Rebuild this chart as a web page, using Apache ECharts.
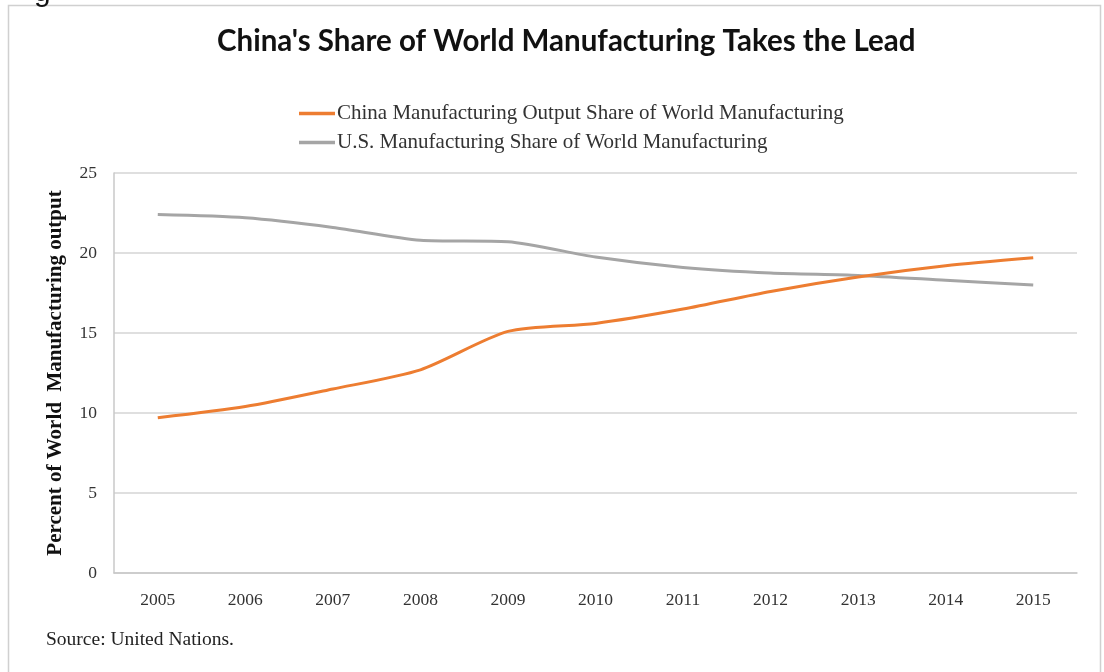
<!DOCTYPE html>
<html>
<head>
<meta charset="utf-8">
<script src="https://cdn.jsdelivr.net/npm/echarts@6/dist/echarts.min.js"></script>
<style>
  html, body { margin: 0; padding: 0; background: #fff; }
  #main { width: 1104px; height: 672px; }
</style>
</head>
<body>
<div id="main"></div>
<script>
const years = ['2005', '2006', '2007', '2008', '2009', '2010', '2011', '2012', '2013', '2014', '2015'];
const chinaShare = [9.7, 10.4, 11.5, 12.7, 15.1, 15.6, 16.5, 17.6, 18.5, 19.2, 19.7];
const usShare = [22.4, 22.2, 21.6, 20.8, 20.7, 19.75, 19.1, 18.75, 18.6, 18.3, 18.0];

const chart = echarts.init(document.getElementById('main'));

const serif = '"Liberation Serif", "DejaVu Serif", serif';

chart.setOption({
  animation: false,
  backgroundColor: '#fff',
  title: {
    text: "China's Share of World Manufacturing Takes the Lead",
    left: 212,
    top: 21,
    textStyle: { fontFamily: 'Lato', fontWeight: 'bold', fontSize: 29.5, color: '#111' }
  },
  legend: {
    orient: 'vertical',
    left: 294,
    top: 98,
    itemWidth: 36,
    itemHeight: 3.5,
    itemGap: 8,
    icon: 'rect',
    textStyle: { fontFamily: serif, fontSize: 21, color: '#333', padding: [0, 0, 0, -3] },
    data: [
      { name: 'China Manufacturing Output Share of World Manufacturing', itemStyle: { color: '#ED7D31' } },
      { name: 'U.S. Manufacturing Share of World Manufacturing', itemStyle: { color: '#A5A5A5' } }
    ]
  },
  grid: { left: 114, right: 27, top: 173, bottom: 99 },
  xAxis: {
    type: 'category',
    data: years,
    boundaryGap: true,
    axisLine: { lineStyle: { color: '#C8C8C8', width: 1.5 } },
    axisTick: { show: false },
    axisLabel: { fontFamily: serif, fontSize: 17.5, color: '#333', margin: 18 }
  },
  yAxis: {
    type: 'value',
    min: 0,
    max: 25,
    interval: 5,
    name: 'Percent of World  Manufacturing output',
    nameLocation: 'middle',
    nameGap: 48,
    nameTextStyle: { fontFamily: serif, fontWeight: 'bold', fontSize: 21, color: '#111' },
    axisLine: { show: true, lineStyle: { color: '#C8C8C8', width: 1.5 } },
    axisTick: { show: false },
    splitLine: { lineStyle: { color: '#D4D4D4', width: 1.5 } },
    axisLabel: { fontFamily: serif, fontSize: 17.5, color: '#333', margin: 17 }
  },
  series: [
    {
      name: 'China Manufacturing Output Share of World Manufacturing',
      type: 'line',
      data: chinaShare,
      smooth: 0.25,
      showSymbol: false,
      lineStyle: { color: '#ED7D31', width: 3 },
      itemStyle: { color: '#ED7D31' },
      z: 3
    },
    {
      name: 'U.S. Manufacturing Share of World Manufacturing',
      type: 'line',
      data: usShare,
      smooth: 0.25,
      showSymbol: false,
      lineStyle: { color: '#A5A5A5', width: 3 },
      itemStyle: { color: '#A5A5A5' },
      z: 2
    }
  ],
  graphic: [
    {
      type: 'rect',
      shape: { x: 8.5, y: 5.5, width: 1092, height: 680 },
      style: { fill: 'none', stroke: '#D0D0D0', lineWidth: 1.5 },
      z: -1
    },
    {
      type: 'text',
      left: 34,
      top: -22,
      style: { text: 'g', font: '30px "Liberation Sans", sans-serif', fill: '#111' }
    },
    {
      type: 'text',
      left: 46,
      top: 630,
      style: { text: 'Source: United Nations.', font: '19.5px "Liberation Serif", serif', fill: '#222' }
    }
  ]
});
</script>
</body>
</html>
